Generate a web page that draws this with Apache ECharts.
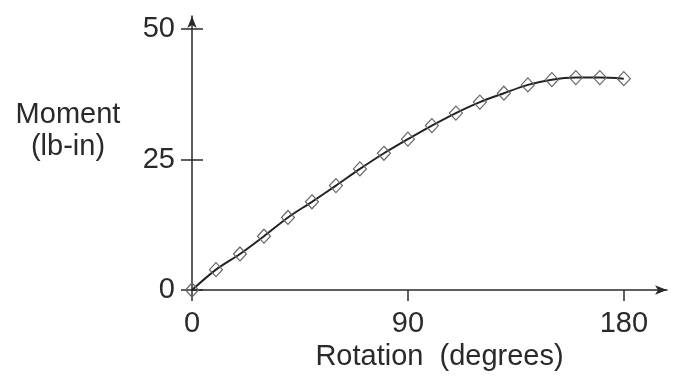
<!DOCTYPE html>
<html>
<head>
<meta charset="utf-8">
<script src="https://cdn.jsdelivr.net/npm/echarts@6/dist/echarts.min.js"></script>
<style>
  html, body { margin: 0; padding: 0; background: #fff; }
  #chart { width: 674px; height: 386px; }
</style>
</head>
<body>
<div id="chart"></div>
<script>
// rotation in degrees, moment in lb-in
const rotation = [0, 10, 20, 30, 40, 50, 60, 70, 80, 90, 100, 110, 120, 130, 140, 150, 160, 170, 180];
const moment = [0, 3.9, 6.9, 10.3, 13.9, 16.9, 20.0, 23.2, 26.2, 28.9, 31.5, 33.9, 36.0, 37.7, 39.3, 40.3, 40.7, 40.7, 40.5];
const xTicks = [0, 90, 180];
const yTicks = [0, 25, 50];

const font = '"Liberation Sans", Arial, Helvetica, sans-serif';
const ink = '#2a2a2a';

const chart = echarts.init(document.getElementById('chart'));

// shared axis bits; the second copy of each axis only draws the inner half of the ticks
const xBase = { type: 'value', min: 0, max: 198, splitLine: { show: false } };
const yBase = { type: 'value', min: 0, max: 52.5, splitLine: { show: false } };

const option = {
  animation: false,
  backgroundColor: '#fff',
  grid: { left: 192, right: 7, top: 16, bottom: 96 },
  xAxis: [
    {
      ...xBase,
      name: 'Rotation  (degrees)',
      nameLocation: 'middle',
      nameGap: 50,
      nameTextStyle: { fontFamily: font, fontSize: 29, color: ink, padding: [0, 0, 0, 20] },
      axisLine: {
        lineStyle: { color: ink, width: 1.5 },
        symbol: ['none', 'arrow'],
        symbolSize: [7, 12]
      },
      axisTick: { customValues: xTicks, length: 11, lineStyle: { color: ink, width: 1.5 } },
      axisLabel: { customValues: xTicks, margin: 19, fontFamily: font, fontSize: 29, color: ink }
    },
    {
      ...xBase,
      axisLine: { show: false },
      axisTick: { customValues: xTicks, inside: true, length: 11, lineStyle: { color: ink, width: 1.5 } },
      axisLabel: { show: false }
    }
  ],
  yAxis: [
    {
      ...yBase,
      axisLine: {
        lineStyle: { color: ink, width: 1.5 },
        symbol: ['none', 'arrow'],
        symbolSize: [7, 12]
      },
      axisTick: { customValues: yTicks, length: 11, lineStyle: { color: ink, width: 1.5 } },
      axisLabel: { customValues: yTicks, margin: 17, fontFamily: font, fontSize: 29, color: ink }
    },
    {
      ...yBase,
      position: 'left',
      axisLine: { show: false },
      axisTick: { customValues: yTicks, inside: true, length: 11, lineStyle: { color: ink, width: 1.5 } },
      axisLabel: { show: false }
    }
  ],
  graphic: [
    {
      type: 'text',
      x: 68,
      y: 99,
      style: {
        text: 'Moment\n(lb-in)',
        font: '29px ' + font,
        fill: ink,
        align: 'center',
        verticalAlign: 'top',
        lineHeight: 32
      }
    }
  ],
  series: [
    {
      type: 'line',
      xAxisIndex: 0,
      yAxisIndex: 0,
      data: rotation.map((r, i) => [r, moment[i]]),
      smooth: 0.3,
      symbol: 'diamond',
      symbolSize: [13, 14],
      lineStyle: { color: '#222', width: 2 },
      itemStyle: { color: 'rgba(255,255,255,0)', borderColor: '#666', borderWidth: 1.2 }
    }
  ]
};

chart.setOption(option);
</script>
</body>
</html>
